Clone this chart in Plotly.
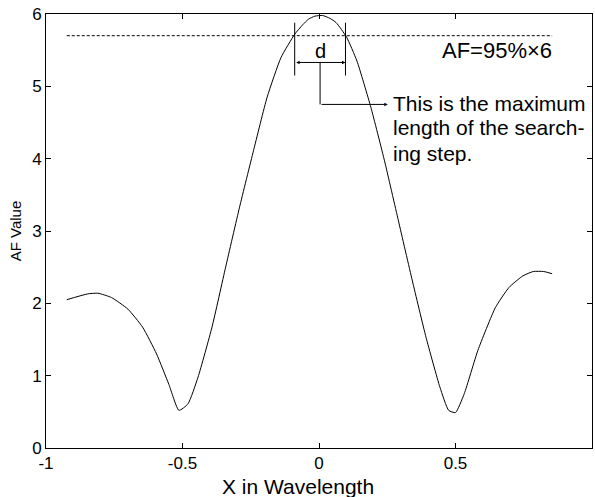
import plotly.graph_objects as go

# Array-factor curve (position in wavelengths vs AF value)
x_pos = [-0.924, -0.848, -0.81, -0.76, -0.70, -0.646, -0.595, -0.55, -0.513,
         -0.48, -0.443, -0.392, -0.342, -0.291, -0.24, -0.19, -0.139, -0.089,
         -0.06, -0.038, -0.015, 0.013, 0.04, 0.063, 0.101, 0.139, 0.19, 0.24,
         0.291, 0.342, 0.392, 0.443, 0.475, 0.50, 0.532, 0.582, 0.646, 0.696,
         0.747, 0.785, 0.823, 0.854]
af_val = [2.05, 2.13, 2.14, 2.08, 1.92, 1.67, 1.30, 0.88, 0.52,
          0.61, 0.98, 1.67, 2.50, 3.33, 4.11, 4.85, 5.40, 5.72,
          5.85, 5.93, 5.97, 5.98, 5.94, 5.88, 5.68, 5.35, 4.71, 3.97,
          3.14, 2.31, 1.53, 0.84, 0.52, 0.49, 0.75, 1.35, 1.94, 2.22,
          2.38, 2.44, 2.44, 2.41]

# 95% threshold line and the width d of the main lobe above it
threshold = 0.95 * 6
threshold_x = [-0.924, 0.854]
d_left, d_right = -0.089, 0.097

note_lines = ["This is the maximum", "length of the search-", "ing step."]
note_y = [4.76, 4.43, 4.07]

x_ticks = [-1, -0.5, 0, 0.5, 1]
x_tick_text = ["-1", "-0.5", "0", "0.5", "1"]
y_ticks = [0, 1, 2, 3, 4, 5, 6]
y_tick_text = ["0", "1", "2", "3", "4", "5", "6"]

FONT = "Liberation Sans, Arial, sans-serif"

fig = go.Figure()
fig.add_trace(go.Scatter(x=x_pos, y=af_val, mode="lines", line_shape="spline",
                         line=dict(color="black", width=1, smoothing=0.5),
                         showlegend=False))
fig.add_trace(go.Scatter(x=threshold_x, y=[threshold, threshold], mode="lines",
                         line=dict(color="black", width=1, dash="3px,2px"),
                         showlegend=False))

# bracket marking d
for xv in (d_left, d_right):
    fig.add_shape(type="line", x0=xv, x1=xv, y0=5.15, y1=5.88,
                  line=dict(color="black", width=1))
mid = (d_left + d_right) / 2
fig.add_shape(type="line", x0=mid, x1=mid, y0=5.33, y1=4.75,
              line=dict(color="black", width=1))

fig.add_annotation(x=d_right, y=5.33, ax=d_left, ay=5.33, xref="x", yref="y",
                   axref="x", ayref="y", text="", showarrow=True,
                   arrowside="end+start", arrowhead=2, arrowsize=0.7,
                   arrowwidth=1, arrowcolor="black")
fig.add_annotation(x=0.252, y=4.75, ax=mid, ay=4.75, xref="x", yref="y",
                   axref="x", ayref="y", text="", showarrow=True,
                   arrowhead=2, arrowsize=0.7, arrowwidth=1, arrowcolor="black")

fig.add_annotation(x=mid, y=5.49, text="d", showarrow=False,
                   font=dict(family=FONT, size=20, color="black"))
fig.add_annotation(x=0.443, y=5.50, text="AF=95%×6", showarrow=False,
                   xanchor="left", font=dict(family=FONT, size=22, color="black"))
for line, yv in zip(note_lines, note_y):
    fig.add_annotation(x=0.262, y=yv, text=line, showarrow=False,
                       xanchor="left", yanchor="middle",
                       font=dict(family=FONT, size=21, color="black"))

# x-axis title placed as an annotation below the tick labels
fig.add_annotation(x=0.462, y=-0.088, xref="paper", yref="paper",
                   text="X in Wavelength", showarrow=False,
                   xanchor="center", yanchor="middle",
                   font=dict(family=FONT, size=21, color="black"))

axis_common = dict(showgrid=False, zeroline=False, showline=True, linecolor="black",
                   linewidth=1, mirror="ticks", ticks="inside", ticklen=5,
                   tickcolor="black", tickfont=dict(family=FONT, size=17, color="black"))

fig.update_xaxes(range=[-1, 1], tickvals=x_ticks, ticktext=x_tick_text, **axis_common)
fig.update_yaxes(range=[0, 6], tickvals=y_ticks, ticktext=y_tick_text,
                 title=dict(text="AF Value", standoff=6,
                            font=dict(family=FONT, size=15, color="black")),
                 **axis_common)

fig.update_layout(width=595, height=497, margin=dict(l=46, r=3, t=14, b=49, autoexpand=False),
                  plot_bgcolor="white", paper_bgcolor="white")

fig.write_html("out.html")
